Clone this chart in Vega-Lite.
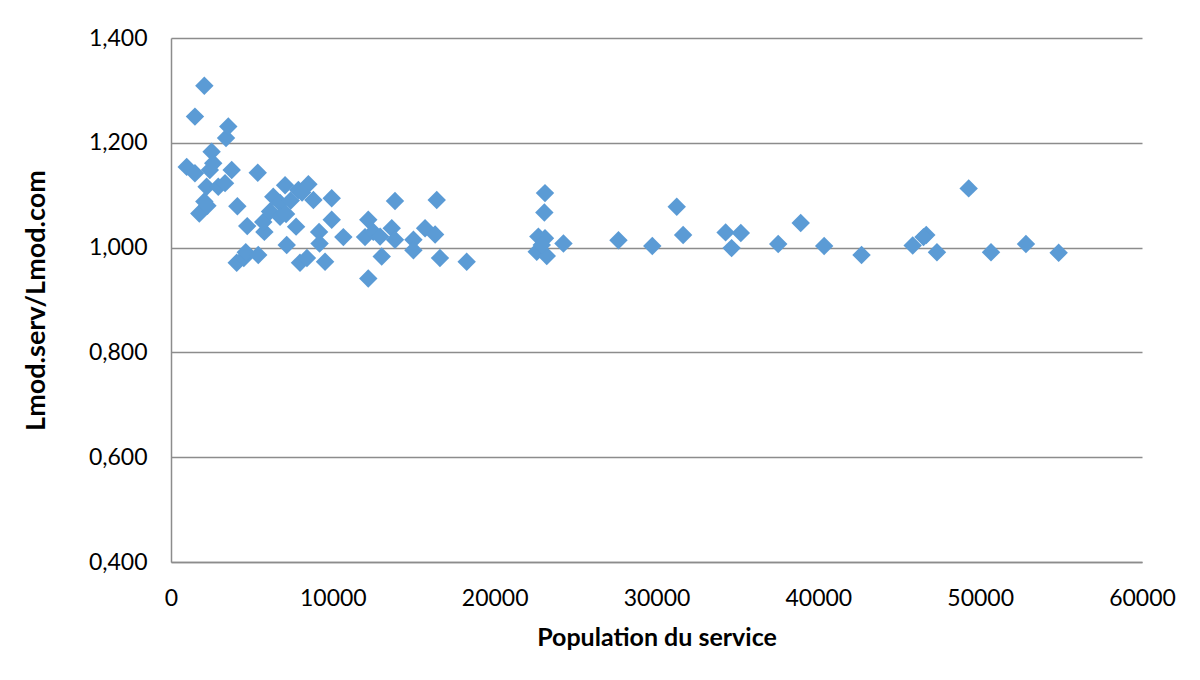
{
  "$schema": "https://vega.github.io/schema/vega-lite/v6.json",
  "width": 971,
  "height": 524,
  "autosize": {"type": "none"},
  "padding": {"left": 171, "top": 38, "right": 58, "bottom": 118},
  "background": "white",
  "config": {
    "view": {"stroke": null},
    "font": "Lato"
  },
  "data": {
    "values": [
      {"pop": 970, "ratio": 1.154}, {"pop": 1480, "ratio": 1.142}, {"pop": 1480, "ratio": 1.250},
      {"pop": 2060, "ratio": 1.309}, {"pop": 1750, "ratio": 1.065}, {"pop": 2060, "ratio": 1.088},
      {"pop": 2250, "ratio": 1.080}, {"pop": 2200, "ratio": 1.116}, {"pop": 2510, "ratio": 1.183},
      {"pop": 2610, "ratio": 1.161}, {"pop": 2400, "ratio": 1.148}, {"pop": 2920, "ratio": 1.116},
      {"pop": 3340, "ratio": 1.123}, {"pop": 3400, "ratio": 1.209}, {"pop": 3540, "ratio": 1.231},
      {"pop": 3750, "ratio": 1.148}, {"pop": 4100, "ratio": 1.079}, {"pop": 4060, "ratio": 0.971},
      {"pop": 4500, "ratio": 0.980}, {"pop": 4620, "ratio": 0.991}, {"pop": 5390, "ratio": 0.986},
      {"pop": 4710, "ratio": 1.041}, {"pop": 5360, "ratio": 1.143}, {"pop": 5770, "ratio": 1.030},
      {"pop": 5700, "ratio": 1.049}, {"pop": 6120, "ratio": 1.069}, {"pop": 6320, "ratio": 1.097},
      {"pop": 6740, "ratio": 1.085}, {"pop": 6740, "ratio": 1.059}, {"pop": 7050, "ratio": 1.119},
      {"pop": 7110, "ratio": 1.064}, {"pop": 7150, "ratio": 1.005}, {"pop": 7730, "ratio": 1.040},
      {"pop": 7870, "ratio": 1.110}, {"pop": 8490, "ratio": 1.121}, {"pop": 8800, "ratio": 1.091},
      {"pop": 9930, "ratio": 1.094}, {"pop": 9930, "ratio": 1.053}, {"pop": 9150, "ratio": 1.030},
      {"pop": 9180, "ratio": 1.008}, {"pop": 10650, "ratio": 1.020}, {"pop": 7970, "ratio": 0.971},
      {"pop": 8400, "ratio": 0.980}, {"pop": 9520, "ratio": 0.973}, {"pop": 8100, "ratio": 1.105},
      {"pop": 7400, "ratio": 1.090},
      {"pop": 11990, "ratio": 1.020}, {"pop": 12190, "ratio": 1.053}, {"pop": 12190, "ratio": 0.941},
      {"pop": 12500, "ratio": 1.030}, {"pop": 12920, "ratio": 1.021}, {"pop": 13020, "ratio": 0.983},
      {"pop": 13640, "ratio": 1.037}, {"pop": 13840, "ratio": 1.015}, {"pop": 13840, "ratio": 1.089},
      {"pop": 14980, "ratio": 1.015}, {"pop": 14980, "ratio": 0.995}, {"pop": 15700, "ratio": 1.037},
      {"pop": 16320, "ratio": 1.025}, {"pop": 16420, "ratio": 1.091}, {"pop": 16620, "ratio": 0.980},
      {"pop": 18270, "ratio": 0.973},
      {"pop": 23110, "ratio": 1.104}, {"pop": 23070, "ratio": 1.067}, {"pop": 22700, "ratio": 1.021},
      {"pop": 23110, "ratio": 1.018}, {"pop": 22600, "ratio": 0.992}, {"pop": 23220, "ratio": 0.984},
      {"pop": 22910, "ratio": 1.005}, {"pop": 24250, "ratio": 1.008}, {"pop": 27650, "ratio": 1.014},
      {"pop": 29740, "ratio": 1.003}, {"pop": 31250, "ratio": 1.078}, {"pop": 31645, "ratio": 1.024},
      {"pop": 34270, "ratio": 1.029}, {"pop": 34640, "ratio": 0.999}, {"pop": 35210, "ratio": 1.028},
      {"pop": 37520, "ratio": 1.007}, {"pop": 38910, "ratio": 1.047}, {"pop": 40360, "ratio": 1.003},
      {"pop": 42670, "ratio": 0.986}, {"pop": 45830, "ratio": 1.004}, {"pop": 46670, "ratio": 1.024},
      {"pop": 46500, "ratio": 1.020}, {"pop": 47330, "ratio": 0.991}, {"pop": 49290, "ratio": 1.113},
      {"pop": 50670, "ratio": 0.991}, {"pop": 52830, "ratio": 1.007}, {"pop": 54850, "ratio": 0.990}
    ]
  },
  "mark": {"type": "point", "shape": "diamond", "filled": true, "size": 340, "color": "#5B9BD5", "opacity": 1},
  "encoding": {
    "x": {
      "field": "pop", "type": "quantitative",
      "scale": {"domain": [0, 60000], "nice": false, "zero": true},
      "axis": {
        "title": "Population du service",
        "values": [0, 10000, 20000, 30000, 40000, 50000, 60000],
        "format": "d",
        "grid": false,
        "ticks": false, "tickSize": 0,
        "domainColor": "#8c8c8c", "domainWidth": 1.5,
        "labelFont": "Lato", "labelFontSize": 23, "labelColor": "#000000",
        "labelPadding": 25, "labelFlush": false,
        "titleFont": "Lato", "titleFontSize": 25, "titleFontWeight": "bold", "titleColor": "#000000",
        "titleBaseline": "alphabetic", "titleY": 83
      }
    },
    "y": {
      "field": "ratio", "type": "quantitative",
      "scale": {"domain": [0.4, 1.4], "nice": false, "zero": false},
      "axis": {
        "title": "Lmod.serv/Lmod.com",
        "values": [0.4, 0.6, 0.8, 1.0, 1.2, 1.4],
        "labelExpr": "replace(format(datum.value, '.3f'), '.', ',')",
        "grid": true, "gridColor": "#8c8c8c", "gridWidth": 1.5,
        "ticks": false, "tickSize": 0,
        "domainColor": "#8c8c8c", "domainWidth": 1.5,
        "labelFont": "Lato", "labelFontSize": 23, "labelColor": "#000000",
        "labelPadding": 24,
        "titleFont": "Lato", "titleFontSize": 27, "titleFontWeight": "bold", "titleColor": "#000000",
        "titleBaseline": "alphabetic", "titleX": -127, "titleY": 262, "titleAngle": -90, "titleAlign": "center"
      }
    }
  }
}
